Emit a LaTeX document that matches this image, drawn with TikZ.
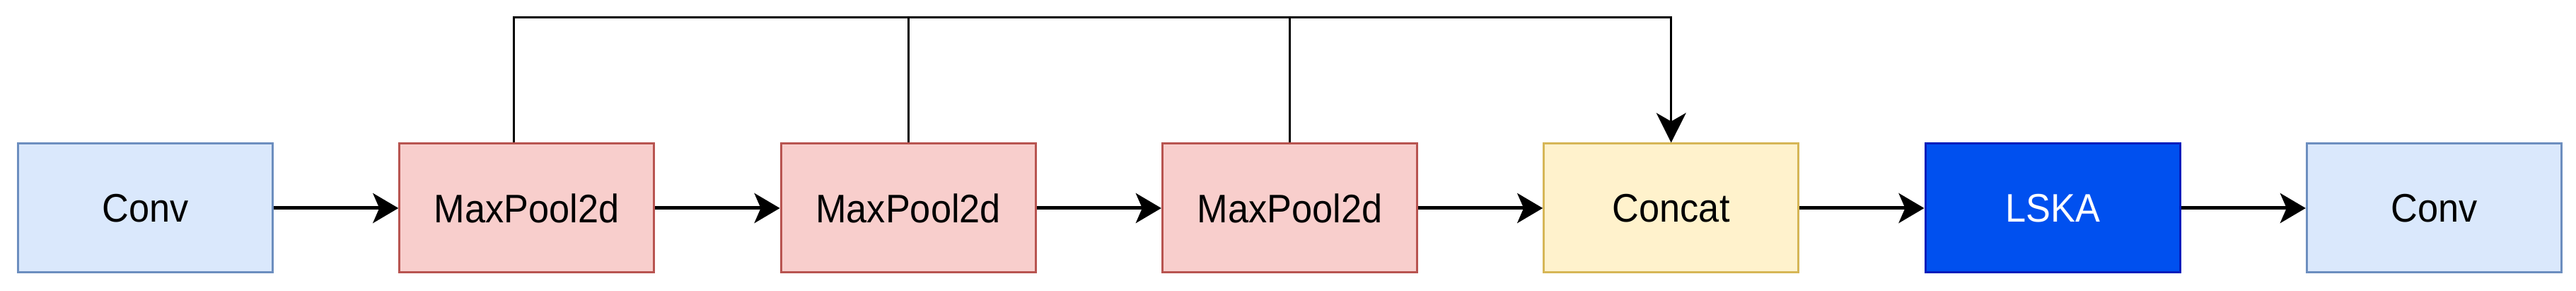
\documentclass[tikz,border=0pt]{standalone}
\usepackage{fontspec}
\setmainfont{Liberation Sans}[FakeStretch=0.93]
\usepackage{xcolor}
\usetikzlibrary{arrows.meta,positioning}
\definecolor{convfill}{HTML}{DAE8FC}
\definecolor{convline}{HTML}{6C8EBF}
\definecolor{poolfill}{HTML}{F8CECC}
\definecolor{poolline}{HTML}{B85450}
\definecolor{catfill}{HTML}{FFF2CC}
\definecolor{catline}{HTML}{D6B656}
\definecolor{lskafill}{HTML}{0050EF}
\definecolor{lskaline}{HTML}{001DBC}

\begin{document}
\begin{tikzpicture}[
  node distance=1.763cm,
  box/.style={draw,line width=0.03cm,align=center,font=\fontsize{16}{19}\selectfont,inner sep=2pt,minimum width=3.6cm,minimum height=1.82cm},
  conv/.style={box,fill=convfill,draw=convline},
  pool/.style={box,fill=poolfill,draw=poolline},
  cat/.style={box,fill=catfill,draw=catline},
  lska/.style={box,fill=lskafill,draw=lskaline,text=white},
  ar/.style={line width=0.05cm,-{Stealth[length=3.6mm,width=4.2mm,inset=0.9mm]}},
  br/.style={line width=0.03cm}
]
\useasboundingbox (0,0) rectangle (36.42,4.11);
\node[conv] (conv1) at (2.055,1.17) {Conv};
\node[pool,right=of conv1] (pool1) {MaxPool2d};
\node[pool,right=of pool1] (pool2) {MaxPool2d};
\node[pool,right=of pool2] (pool3) {MaxPool2d};
\node[cat,right=of pool3] (concat) {Concat};
\node[lska,right=of concat] (lska) {LSKA};
\node[conv,right=of lska] (conv2) {Conv};
\coordinate (top) at (0,3.86);
\draw[ar] (conv1)--(pool1);
\draw[ar] (pool1)--(pool2);
\draw[ar] (pool2)--(pool3);
\draw[ar] (pool3)--(concat);
\draw[ar] (concat)--(lska);
\draw[ar] (lska)--(conv2);
% skip branch over the pools
\draw[br,-{Stealth[length=4.2mm,width=4.2mm,inset=1.2mm]}] ([xshift=-1.8mm]pool1.north) |- (top -| concat.north) -- (concat.north);
\draw[br] (pool2.north) -- (pool2.north |- top);
\draw[br] (pool3.north) -- (pool3.north |- top);
\end{tikzpicture}
\end{document}
